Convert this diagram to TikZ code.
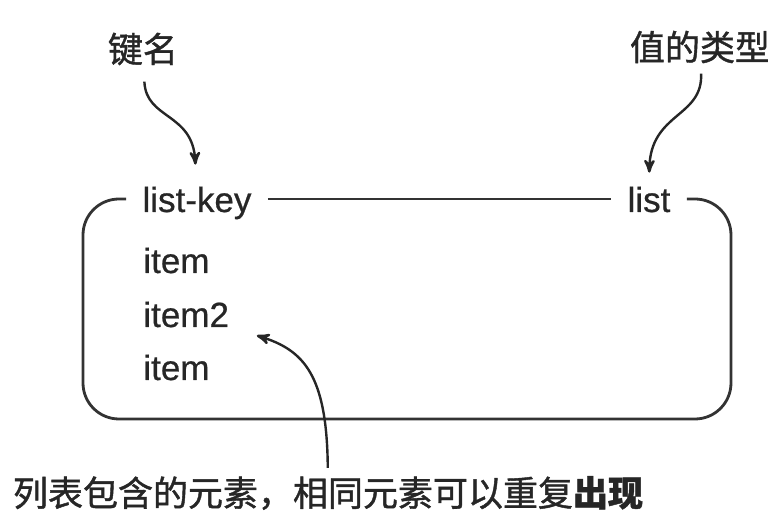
\documentclass[tikz,border=0pt]{standalone}
\usepackage{fontspec}
\setsansfont[FakeBold=0.6]{Liberation Sans}
\newfontfamily\cjk[FakeBold=1.2]{Noto Sans CJK SC}
\usepackage{tikz}
\usetikzlibrary{arrows}
\tikzstyle{txt} = [font=\sffamily\fontsize{17.5}{20}\selectfont, text=black!85,
    text height=15.5pt, text depth=2.5pt, inner xsep=8pt, inner ysep=0pt]
\tikzstyle{itm} = [txt, anchor=west]
\tikzstyle{lbl} = [font=\cjk\fontsize{17.5}{20}\selectfont, text=black!85, inner sep=2pt]
\tikzstyle{box} = [draw=black!80, line width=1.4pt, rounded corners=18pt]
\tikzstyle{arr} = [->, >=stealth', draw=black!85, line width=1.2pt]

\begin{document}
\begin{tikzpicture}[x=0.5pt,y=-0.5pt]
  \useasboundingbox (0,0) rectangle (768,518);

  \node[lbl]          (key)     at (143,49)  {键名};
  \node[lbl]          (type)    at (700,47)  {值的类型};
  \node[txt]          (listkey) at (197,199) {list-key};
  \node[txt]          (list)    at (649,199) {list};
  \node[itm]          (i1)      at (127,260) {item};
  \node[itm]          (i2)      at (127,314) {item2};
  \node[itm]          (i3)      at (127,367) {item};
  \node[lbl]          (note)    at (328,493) {列表包含的元素，相同元素可以重复{\bfseries 出现}};

  % the key box
  \draw[box] (listkey.west) -| (83,419) -| (731,199) -- (list.east);
  \draw[box] (listkey) -- (list);

  \draw[arr, shorten <=6pt, shorten >=8pt] (key) .. controls (146,120) and (193,112) .. (listkey);
  \draw[arr, shorten <=3pt, shorten >=4pt] (type) .. controls (703,118) and (650,112) .. (list);
  \draw[arr, shorten <=2pt, shorten >=6pt] (note) .. controls (327,375) and (304,350) .. (i2);
\end{tikzpicture}
\end{document}
